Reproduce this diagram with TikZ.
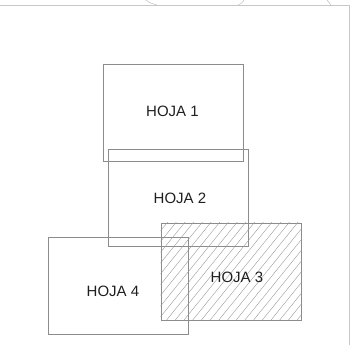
\documentclass[tikz,border=0pt]{standalone}
\usepackage{fontspec}
\setmainfont{Liberation Sans}
\usetikzlibrary{positioning,calc}
\begin{document}
\begin{tikzpicture}[x=1pt, y=-1pt,
    hoja/.style={draw=black!45, line width=0.6pt, minimum width=140pt, minimum height=97pt, inner sep=0pt},
    rotulo/.style={text=black!88, font=\fontsize{15}{18}\selectfont, inner sep=0pt},
    marco/.style={draw=black!22, line width=0.6pt},
    rayado/.style={draw=black!40, line width=0.4pt}]
    \useasboundingbox (0,0) rectangle (351,349);

    % marco del pliego
    \draw[marco] (0,5) -- (349,5) -- (349,345);
    \draw[marco] (146,0) .. controls (150,3) .. (157,5);
    \draw[marco] (238,5) .. controls (242,3) .. (244,0);
    \draw[marco] (327,0) .. controls (329,3) .. (331,5);

    % hojas
    \node [hoja] (hoja1) at (173,112.5) {};
    \node [hoja] (hoja2) at (178.5,197.5) {};
    \node [hoja] (hoja3) at (231,271.5) {};
    \node [hoja] (hoja4) at (118.5,285.5) {};

    % rayado de la hoja 3
    \begin{scope}
        \clip (hoja3.south west) rectangle (hoja3.north east);
        \foreach \i in {0,...,27}
            \draw[rayado] ($(hoja3.south west)+(\i*8.7-90,0)$) -- ++(85,-105);
    \end{scope}

    \node [rotulo] (txt1) at (172.5,111) {HOJA 1};
    \node [rotulo] (txt2) at (180,198.5) {HOJA 2};
    \node [rotulo] (txt3) at (237,277) {HOJA 3};
    \node [rotulo] (txt4) at (113,291.5) {HOJA 4};
\end{tikzpicture}
\end{document}
